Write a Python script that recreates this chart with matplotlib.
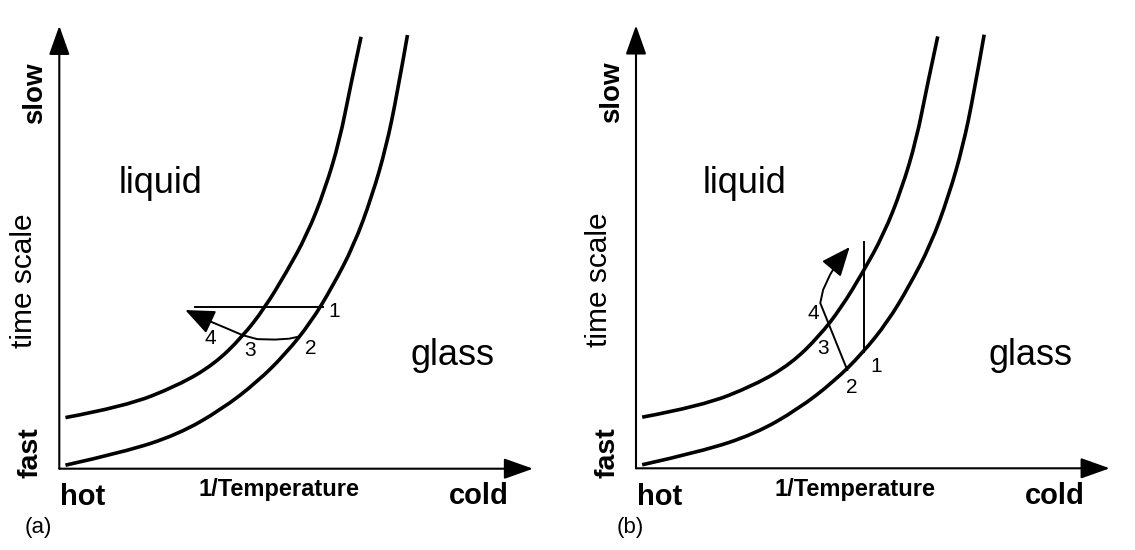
import matplotlib
matplotlib.use("Agg")
import matplotlib.pyplot as plt
from matplotlib.path import Path
from matplotlib.patches import PathPatch

plt.rcParams['font.family'] = ['Liberation Sans', 'DejaVu Sans']

# schematic units: x = 1/T (0 hot .. 10 cold), y = time scale (0 fast .. 10 slow)
liquid_x = [0.13, 1.38, 2.51, 3.27, 3.87, 4.33, 4.78, 5.23, 5.61, 5.92, 6.14, 6.37]
liquid_y = [1.16, 1.41, 1.89, 2.37, 3.00, 3.64, 4.43, 5.31, 6.34, 7.46, 8.65, 9.80]
glass_x = [0.13, 1.38, 2.51, 3.42, 4.18, 4.78, 5.31, 5.76, 6.22, 6.60, 6.90, 7.13, 7.35]
glass_y = [0.08, 0.38, 0.78, 1.34, 1.97, 2.61, 3.32, 4.12, 5.07, 6.18, 7.30, 8.49, 9.84]

# panel (a): quench at constant time scale, then reheat
a_step_x = [2.87, 5.57]
a_step_y = [3.66, 3.66]
a_path_x = [5.07, 4.85, 4.55, 4.18, 3.87, 3.50, 3.10, 2.66]
a_path_y = [3.00, 2.95, 2.93, 2.94, 3.03, 3.20, 3.38, 3.60]
a_nums = ['1', '2', '3', '4']
a_num_x = [5.80, 5.31, 4.02, 3.19]
a_num_y = [3.56, 2.73, 2.69, 2.96]

# panel (b): jump in time scale at constant temperature
b_step_x = [4.82, 4.82]
b_step_y = [2.63, 5.14]
b_path_x = [4.46, 3.89, 3.95, 4.10, 4.30, 4.51]
b_path_y = [2.23, 3.75, 4.05, 4.40, 4.75, 5.02]
b_nums = ['1', '2', '3', '4']
b_num_x = [5.06, 4.55, 3.95, 3.74]
b_num_y = [2.31, 1.83, 2.71, 3.51]

W, H = 1135, 550
fig = plt.figure(figsize=(W / 100, H / 100), dpi=100)

ux, uy = 47.37, 44.07  # pixels per unit


def make_axes(ox, oy):
    x0, x1 = -1.25, 10.5
    y0, y1 = -1.85, 10.6
    left = (ox + x0 * ux) / W
    width = (x1 - x0) * ux / W
    bottom = (H - oy - (-y0) * uy) / H
    height = (y1 - y0) * uy / H
    ax = fig.add_axes([left, bottom, width, height])
    ax.set_xlim(x0, x1)
    ax.set_ylim(y0, y1)
    ax.axis('off')
    return ax


def smooth_curve(ax, xs, ys, lw):
    # quadratic bezier through midpoints, read points act as control points
    pts = list(zip(xs, ys))
    verts = [pts[0]]
    codes = [Path.MOVETO]
    for i in range(1, len(pts) - 2):
        mid = ((pts[i][0] + pts[i + 1][0]) / 2, (pts[i][1] + pts[i + 1][1]) / 2)
        verts += [pts[i], mid]
        codes += [Path.CURVE3, Path.CURVE3]
    verts += [pts[-2], pts[-1]]
    codes += [Path.CURVE3, Path.CURVE3]
    ax.add_patch(PathPatch(Path(verts, codes), fill=False, lw=lw, ec='k',
                           capstyle='butt'))


def panel(ax, step_x, step_y, path_x, path_y, nums, num_x, num_y, tag, tx, liq_x, gl_x, ts_x):
    axis_arrow = dict(arrowstyle='-|>,head_length=0.9,head_width=0.32', lw=1.5,
                      color='k', mutation_scale=20, shrinkA=0, shrinkB=0)
    ax.annotate('', xy=(10, 0), xytext=(0, 0), arrowprops=axis_arrow)
    ax.annotate('', xy=(0, 10.05), xytext=(0, 0), arrowprops=axis_arrow)

    smooth_curve(ax, liquid_x, liquid_y, 2.6)
    smooth_curve(ax, glass_x, glass_y, 2.6)

    ax.plot(step_x, step_y, color='k', lw=1.4)
    ax.plot(path_x[:-1], path_y[:-1], color='k', lw=1.4)
    ax.annotate('', xy=(path_x[-1], path_y[-1]), xytext=(path_x[-2], path_y[-2]),
                arrowprops=dict(arrowstyle='-|>,head_length=0.9,head_width=0.38', lw=1.4,
                                color='k', mutation_scale=20, shrinkA=0, shrinkB=0))

    for s, x, y in zip(nums, num_x, num_y):
        ax.text(x, y, s, fontsize=15, ha='center', va='center')

    ax.text(liq_x, 6.47, 'liquid', fontsize=26, ha='center', va='center')
    ax.text(gl_x, 2.56, 'glass', fontsize=26, ha='center', va='center')

    ax.text(-0.51, 8.53, 'slow', fontsize=20, fontweight='bold', rotation=90,
            ha='center', va='center', clip_on=False)
    ax.text(ts_x, 4.27, 'time scale', fontsize=21.5, rotation=90,
            ha='center', va='center', clip_on=False)
    ax.text(-0.60, 0.36, 'fast', fontsize=20.5, fontweight='bold', rotation=90,
            ha='center', va='center', clip_on=False)

    ax.text(0.49, -0.64, 'hot', fontsize=21, fontweight='bold', ha='center', va='center')
    ax.text(4.63, -0.48, '1/Temperature', fontsize=17, fontweight='bold',
            ha='center', va='center')
    ax.text(8.85, -0.62, 'cold', fontsize=21, fontweight='bold', ha='center', va='center')
    ax.text(tx, -1.34, tag, fontsize=16, ha='center', va='center')


ax_a = make_axes(59.3, 468.7)
panel(ax_a, a_step_x, a_step_y, a_path_x, a_path_y, a_nums, a_num_x, a_num_y,
      '(a)', -0.44, 2.13, 8.30, -0.74)

ax_b = make_axes(636.0, 468.3)
panel(ax_b, b_step_x, b_step_y, b_path_x, b_path_y, b_nums, b_num_x, b_num_y,
      '(b)', -0.12, 2.30, 8.33, -0.78)

fig.savefig('out.png', dpi=100, facecolor='white')
